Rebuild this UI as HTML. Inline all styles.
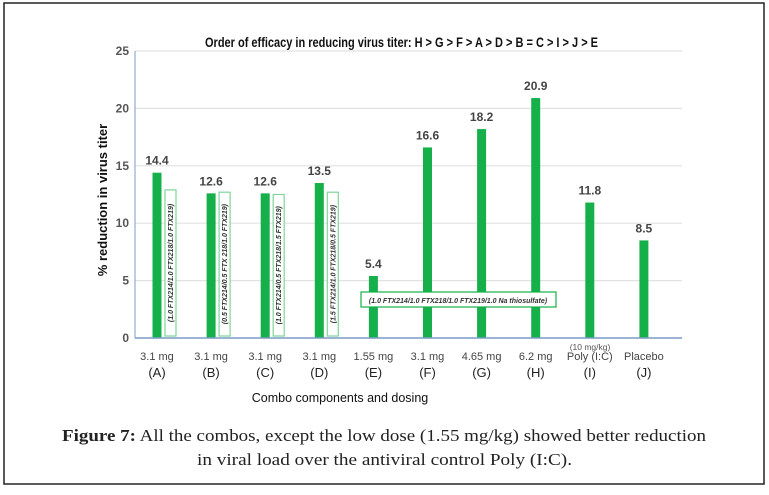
<!DOCTYPE html>
<html><head><meta charset="utf-8"><style>
body{margin:0;width:769px;height:490px;background:#fff;overflow:hidden}
</style></head><body>
<svg width="769" height="490" xmlns="http://www.w3.org/2000/svg" id="chart">
<rect x="4" y="3" width="760" height="481" fill="#fff" stroke="#222" stroke-width="1.5"/>
<text x="205" y="47" textLength="393" lengthAdjust="spacingAndGlyphs" font-family="Liberation Sans, sans-serif" font-size="14" font-weight="bold" fill="#111">Order of efficacy in reducing virus titer: H &gt; G &gt; F &gt; A &gt; D &gt; B = C &gt; I &gt; J &gt; E</text>
<g id="grid"></g><g id="bars"></g>
<line x1="135" y1="51" x2="135" y2="338" stroke="#7a9cc6" stroke-width="1"/>
<line x1="135" y1="338" x2="682" y2="338" stroke="#7a9cc6" stroke-width="1.5"/>
<text transform="translate(107,200) rotate(-90)" text-anchor="middle" font-family="Liberation Sans, sans-serif" font-weight="bold" font-size="13" fill="#111">% reduction in virus titer</text>
<text x="340" y="402" text-anchor="middle" font-family="Liberation Sans, sans-serif" font-size="12.5" fill="#111">Combo components and dosing</text>
<text x="590" y="350" text-anchor="middle" font-family="Liberation Sans, sans-serif" font-size="8.5" fill="#555">(10 mg/kg)</text>
<g id="annot" font-family="Liberation Sans, sans-serif" font-size="7" font-style="italic" font-weight="bold" fill="#333"></g>
<text x="62" y="441" textLength="644" lengthAdjust="spacingAndGlyphs" font-family="Liberation Serif, serif" font-size="17" fill="#222"><tspan font-weight="bold">Figure 7:</tspan> All the combos, except the low dose (1.55 mg/kg) showed better reduction</text>
<text x="197" y="465" textLength="375" lengthAdjust="spacingAndGlyphs" font-family="Liberation Serif, serif" font-size="17" fill="#222">in viral load over the antiviral control Poly (I:C).</text>
</svg>
<script>
const categories=["A","B","C","D","E","F","G","H","I","J"];
const doses=["3.1 mg","3.1 mg","3.1 mg","3.1 mg","1.55 mg","3.1 mg","4.65 mg","6.2 mg","Poly (I:C)","Placebo"];
const values=[14.4,12.6,12.6,13.5,5.4,16.6,18.2,20.9,11.8,8.5];
const valueLabels=["14.4","12.6","12.6","13.5","5.4","16.6","18.2","20.9","11.8","8.5"];
const yTicks=[0,5,10,15,20,25];
const combos=["(1.0 FTX214/1.0 FTX218/1.0 FTX219)","(0.5 FTX214/0.5 FTX 218/1.0 FTX219)","(1.0 FTX214/0.5 FTX218/1.5 FTX219)","(1.5 FTX214/1.0 FTX218/0.5 FTX219)"];
const comboBoxTops=[12.9,12.7,12.5,12.7];
const NS="http://www.w3.org/2000/svg";
const y=v=>338-v*(287/25);
const x=i=>157+i*54.1;
function mk(t,a,p,txt){const e=document.createElementNS(NS,t);for(const k in a)e.setAttribute(k,a[k]);if(txt!==undefined)e.textContent=txt;p.appendChild(e);return e;}
const grid=document.getElementById('grid'),bars=document.getElementById('bars'),an=document.getElementById('annot');
yTicks.forEach(t=>{
 if(t>0){const l=mk('line',{x1:135,x2:682,y1:y(t),y2:y(t),stroke:'#e2e2e2','stroke-width':1.2},grid);
 
 }
 const tx=mk('text',{x:129,y:y(t)+4,'text-anchor':'end','font-family':'Liberation Sans, sans-serif','font-size':12,'font-weight':'bold',fill:'#555'},grid,String(t));
 
 
});
values.forEach((v,i)=>{
 const r=mk('rect',{x:x(i)-4.5,y:y(v),width:9,height:338-y(v),fill:'#16b04a'},bars);
 
 
 const vl=mk('text',{x:x(i),y:y(v)-8,'text-anchor':'middle','font-family':'Liberation Sans, sans-serif','font-weight':'bold','font-size':12,fill:'#444'},bars,valueLabels[i]);
 
 
 const d=mk('text',{x:x(i),y:360,'text-anchor':'middle','font-family':'Liberation Sans, sans-serif','font-size':11,fill:'#444'},bars,doses[i]);
 
 
 const c=mk('text',{x:x(i),y:377,'text-anchor':'middle','font-family':'Liberation Sans, sans-serif','font-size':13,fill:'#222'},bars,'('+categories[i]+')');
 
 
});
combos.forEach((s,i)=>{
 const bx=x(i)+8,top=y(comboBoxTops[i]);
 const b=mk('rect',{x:bx,y:top,width:11,height:336-top,fill:'#fff',stroke:'#7fd59a','stroke-width':1.2},an);
 
 
 const t=mk('text',{transform:`translate(${bx+8},${(top+336)/2}) rotate(-90)`,'text-anchor':'middle'},an,s);
 
 
});
const eb=mk('rect',{x:361,y:292,width:195,height:15,fill:'#fff',stroke:'#16b04a','stroke-width':1.2},an);


const et=mk('text',{x:458,y:303,'text-anchor':'middle'},an,'(1.0 FTX214/1.0 FTX218/1.0 FTX219/1.0  Na thiosulfate)');


</script>
</body></html>
